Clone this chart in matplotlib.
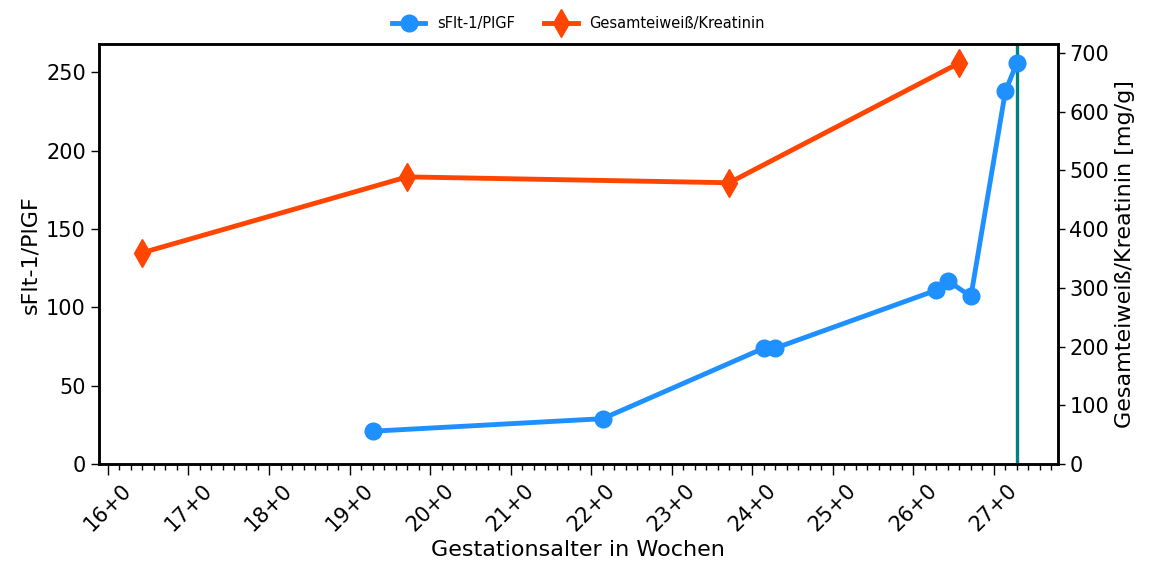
import numpy as np
import matplotlib.pyplot as plt
from matplotlib.ticker import MultipleLocator, FuncFormatter


def ga_to_weeks(ga):
    # "19+2" -> 19 + 2/7
    w, d = ga.split('+')
    return int(w) + int(d) / 7


# sFlt-1/PlGF Messungen
sflt_ga = ["19+2", "22+1", "24+1", "24+2", "26+2", "26+3", "26+5", "27+1", "27+2"]
sflt_values = [21, 29, 74, 74, 111, 117, 107, 238, 256]

# Gesamteiweiß/Kreatinin Messungen
protein_ga = ["16+3", "19+5", "23+5", "26+4"]
protein_values = [360, 489, 479, 683]

delivery_ga = "27+2"

plt.rcParams['font.family'] = ['DejaVu Sans']

fig, ax = plt.subplots(figsize=(11.52, 5.73), dpi=100)
ax2 = ax.twinx()

x_sflt = [ga_to_weeks(g) for g in sflt_ga]
x_prot = [ga_to_weeks(g) for g in protein_ga]

l1, = ax.plot(x_sflt, sflt_values, color='#1e90ff', marker='o', markersize=12,
              linewidth=3.5, label='sFlt-1/PlGF', zorder=3)
l2, = ax2.plot(x_prot, protein_values, color='#ff4500', marker='d', markersize=14,
               linewidth=3.5, label='Gesamteiweiß/Kreatinin', zorder=3)
ax.axvline(ga_to_weeks(delivery_ga), color='teal', linewidth=2.4)

ax.set_xlim(15.89, 27.79)
ax.set_ylim(0, 268)
ax2.set_ylim(0, 715)

ax.xaxis.set_major_locator(MultipleLocator(1))
ax.xaxis.set_minor_locator(MultipleLocator(1 / 7))
ax.xaxis.set_major_formatter(FuncFormatter(lambda v, p: f"{int(round(v))}+0"))
plt.setp(ax.get_xticklabels(), rotation=45)

ax.set_yticks([0, 50, 100, 150, 200, 250])
ax2.set_yticks(np.arange(0, 701, 100))

ax.tick_params(axis='x', which='major', labelsize=15, length=8, width=1)
ax.tick_params(axis='x', which='minor', length=4, width=1)
ax.tick_params(axis='y', which='major', labelsize=15, length=6, width=1)
ax2.tick_params(axis='y', which='major', labelsize=15, length=5, width=1)
for a in (ax, ax2):
    for s in a.spines.values():
        s.set_linewidth(1.8)

ax.set_xlabel('Gestationsalter in Wochen', fontsize=16)
ax.set_ylabel('sFlt-1/PlGF', fontsize=16)
ax2.set_ylabel('Gesamteiweiß/Kreatinin [mg/g]', fontsize=16)

ax.legend(handles=[l1, l2], loc='lower center', bbox_to_anchor=(0.5, 1.0),
          ncol=2, frameon=False, fontsize=10.5, handlelength=2.3)

fig.subplots_adjust(left=0.086, right=0.918, top=0.923, bottom=0.19)
fig.savefig('out.png', dpi=100)
